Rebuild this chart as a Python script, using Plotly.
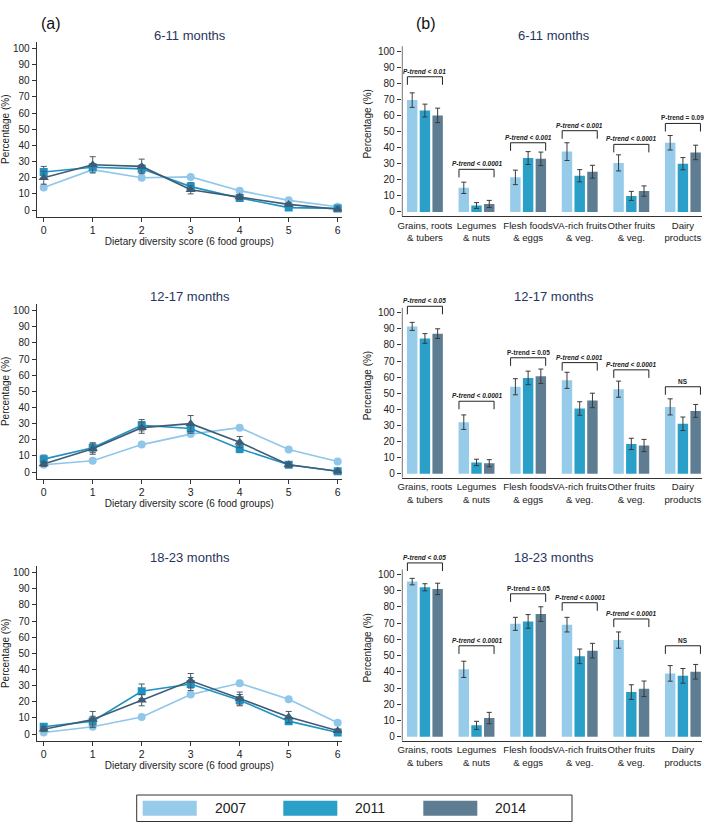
import plotly.graph_objects as go

years = ["2007", "2011", "2014"]
bar_colors = ["#96CBEA", "#2A9FC8", "#5E7D93"]
line_colors = ["#8FC6EA", "#1F91C2", "#3E5D74"]
markers = ["circle", "square", "triangle-up"]

age_groups = ["6-11 months", "12-17 months", "18-23 months"]
dds_scores = [0, 1, 2, 3, 4, 5, 6]

# Panel (a): percentage of children by dietary diversity score
dds_6_11 = {"2007": [14, 25, 20, 20.5, 12, 6, 2],
            "2011": [23.5, 26.5, 25.5, 14.5, 7.5, 1.5, 1],
            "2014": [20, 28, 27, 12.5, 8, 3.5, 0.5]}
dds_6_11_err = {"2007": [1, 1, 1, 1, 0.8, 0.6, 0.4],
                "2011": [3.5, 2, 2.5, 2.5, 1.5, 1, 0.5],
                "2014": [4, 5, 4.5, 2.5, 1.5, 1, 0.5]}
dds_12_17 = {"2007": [4.5, 7, 17, 23.5, 27.5, 14, 6.5],
             "2011": [8, 15, 29, 27, 14.5, 4.5, 0.5],
             "2014": [5, 14.5, 27.5, 30, 18.5, 4.5, 0.5]}
dds_12_17_err = {"2007": [0.8, 1, 1, 1, 1, 0.8, 0.6],
                 "2011": [2.5, 3, 3.5, 3, 2.5, 1, 0.5],
                 "2014": [1.5, 3.5, 3.5, 5, 3.5, 1.5, 0.5]}
dds_18_23 = {"2007": [1, 4.5, 10.5, 24.5, 31.5, 21.5, 7],
             "2011": [4.5, 8, 26.5, 31, 21, 8, 1],
             "2014": [3, 9, 21, 33, 22, 10.5, 2]}
dds_18_23_err = {"2007": [0.5, 0.8, 1, 1, 1, 1, 0.8],
                 "2011": [1.5, 3, 4.5, 4, 3.5, 2, 0.5],
                 "2014": [1.5, 5, 3.5, 4.5, 4, 3.5, 1]}

# Panel (b): consumption of food groups
food_groups = ["Grains, roots<br>& tubers", "Legumes<br>& nuts", "Flesh foods<br>& eggs",
               "VA-rich fruits<br>& veg.", "Other fruits<br>& veg.", "Dairy<br>products"]
fg_6_11 = {"2007": [69.5, 15, 21.5, 37.5, 30.5, 43],
           "2011": [63, 4, 33.5, 22.5, 10, 30],
           "2014": [60, 5, 33, 25, 13, 37]}
fg_6_11_err = {"2007": [4.5, 3.5, 4.5, 5.5, 5, 4.5],
               "2011": [4, 1.8, 4, 3.8, 2.8, 3.8],
               "2014": [4.5, 2.2, 4.2, 4, 3.2, 4.5]}
fg_12_17 = {"2007": [91.5, 32, 54, 58, 52.5, 41.5],
            "2011": [84, 7, 59.5, 40.5, 18.5, 31],
            "2014": [87, 6.5, 60.5, 45.5, 17.5, 39]}
fg_12_17_err = {"2007": [2.5, 4.5, 5, 5, 5, 5],
                "2011": [3, 2, 4.2, 4.2, 3.5, 4.2],
                "2014": [3, 2.2, 4.5, 4.5, 3.8, 4]}
fg_18_23 = {"2007": [95.5, 41.5, 69.5, 69, 59.5, 39],
            "2011": [92, 7, 71, 49.5, 27.5, 37.5],
            "2014": [91, 11.5, 75.5, 53, 29.5, 40]}
fg_18_23_err = {"2007": [2, 5, 4, 4.5, 5, 4.8],
                "2011": [2.2, 2.5, 4.2, 4.5, 4.5, 4.5],
                "2014": [3.5, 3.5, 4.5, 4.5, 4.8, 4.5]}

ptrend_6_11 = ["P-trend < 0.01", "P-trend < 0.0001", "P-trend < 0.001",
               "P-trend < 0.001", "P-trend < 0.0001", "P-trend = 0.09"]
ptrend_12_17 = ["P-trend < 0.05", "P-trend < 0.0001", "P-trend = 0.05",
                "P-trend < 0.001", "P-trend < 0.0001", "NS"]
ptrend_18_23 = ["P-trend < 0.05", "P-trend < 0.0001", "P-trend = 0.05",
                "P-trend < 0.0001", "P-trend < 0.0001", "NS"]
bracket_6_11 = [84, 26.5, 43, 50.5, 42, 55]
bracket_12_17 = [104, 45, 72, 69, 64.5, 54]
bracket_18_23 = [107, 56, 88, 82.5, 72.5, 56]

W, H = 709, 823
FONT = "Liberation Sans, Arial, Helvetica, sans-serif"
AXC = "#333333"
TXT = "#222222"
TITLE_C = "#27355E"


def py(px):
    return 1 - px / H


def pxx(px):
    return px / W


fig = go.Figure()

line_sets = [(dds_6_11, dds_6_11_err), (dds_12_17, dds_12_17_err), (dds_18_23, dds_18_23_err)]
bar_sets = [(fg_6_11, fg_6_11_err, ptrend_6_11, bracket_6_11),
            (fg_12_17, fg_12_17_err, ptrend_12_17, bracket_12_17),
            (fg_18_23, fg_18_23_err, ptrend_18_23, bracket_18_23)]

# pixel geometry (bottom, top) for each row
line_rows = [(216.5, 42.0), (478.5, 304.2), (740.5, 566.2)]
bar_rows = [(216.0, 31.7), (477.7, 293.4), (740.8, 554.8)]
title_rows = [35, 296, 557.5]

layout = dict(
    width=W, height=H, margin=dict(l=0, r=0, t=0, b=0, autoexpand=False),
    paper_bgcolor="white", plot_bgcolor="white",
    font=dict(family=FONT, color=TXT, size=10),
    showlegend=False, barmode="group", bargap=0.26, bargroupgap=0.18,
)
shapes = []
annotations = []

for r in range(3):
    lx = "x" if r == 0 else f"x{2 * r + 1}"
    ly = "y" if r == 0 else f"y{2 * r + 1}"
    bx = f"x{2 * r + 2}"
    by = f"y{2 * r + 2}"
    lk_x = "xaxis" if r == 0 else f"xaxis{2 * r + 1}"
    lk_y = "yaxis" if r == 0 else f"yaxis{2 * r + 1}"
    bk_x = f"xaxis{2 * r + 2}"
    bk_y = f"yaxis{2 * r + 2}"

    vals, errs = line_sets[r]
    for i, yr in enumerate(years):
        fig.add_trace(go.Scatter(
            x=dds_scores, y=vals[yr], mode="lines+markers", name=yr,
            xaxis=lx, yaxis=ly,
            line=dict(color=line_colors[i], width=1.6),
            marker=dict(symbol=markers[i], size=8 if i < 2 else 9, color=line_colors[i]),
            error_y=dict(type="data", array=errs[yr], color="#4a5a66", thickness=1, width=3),
        ))

    bvals, berrs, ptxt, btop = bar_sets[r]
    for i, yr in enumerate(years):
        fig.add_trace(go.Bar(
            x=food_groups, y=bvals[yr], name=yr, xaxis=bx, yaxis=by,
            marker=dict(color=bar_colors[i], line=dict(width=0)),
            error_y=dict(type="data", array=berrs[yr], color="#3a3a3a", thickness=1, width=2.5),
        ))

    lb, lt = line_rows[r]
    layout[lk_x] = dict(domain=[pxx(36.7), pxx(342)], range=[-0.143, 6.088], anchor=ly,
                        automargin=False,
                        tickvals=dds_scores, ticks="outside", ticklen=4, tickcolor=AXC,
                        showline=True, linecolor=AXC, linewidth=1, showgrid=False, zeroline=False,
                        tickfont=dict(size=10.5, color=TXT),
                        title=dict(text="Dietary diversity score (6 food groups)",
                                   font=dict(size=10, color=TXT), standoff=0))
    layout[lk_y] = dict(domain=[py(lb), py(lt)], range=[-4, 104], anchor=lx,
                        automargin=False,
                        tickvals=list(range(0, 101, 10)), ticks="outside", ticklen=4, tickcolor=AXC,
                        showline=True, linecolor=AXC, linewidth=1, showgrid=False, zeroline=False,
                        tickfont=dict(size=10, color=TXT),
                        title=dict(text="Percentage (%)", font=dict(size=10, color=TXT), standoff=4))

    bb, bt = bar_rows[r]
    layout[bk_x] = dict(domain=[pxx(401.7), pxx(702)], range=[-0.45, 5.37], anchor=by,
                        automargin=False,
                        ticks="", showline=True, linecolor=AXC, linewidth=1, showgrid=False,
                        zeroline=False, tickfont=dict(size=9.6, color=TXT), tickangle=0)
    layout[bk_y] = dict(domain=[py(bb), py(bt)], range=[-2.5, 112], anchor=bx,
                        automargin=False,
                        tickvals=list(range(0, 101, 10)), ticks="outside", ticklen=4, tickcolor=AXC,
                        showline=False, showgrid=False, zeroline=False,
                        tickfont=dict(size=10, color=TXT),
                        title=dict(text="Percentage (%)", font=dict(size=10, color=TXT), standoff=4))
    # y axis line for bar panels (stops at ~103 like the original)
    shapes.append(dict(type="line", xref=bx, yref=by, x0=-0.443, x1=-0.443, y0=-2.5, y1=103,
                       line=dict(color=AXC, width=1)))

    # trend brackets
    for j in range(len(food_groups)):
        half = 0.34
        top = btop[j]
        shapes.append(dict(type="path", xref=bx, yref=by,
                           path=f"M {j - half},{top - 5} L {j - half},{top} L {j + half},{top} L {j + half},{top - 5}",
                           line=dict(color="#222222", width=1)))
        t = ptxt[j]
        if t == "NS":
            txt = "<b>NS</b>"
        elif "=" in t:
            txt = f"<b>{t}</b>"
        else:
            txt = f"<b><i>{t}</i></b>"
        annotations.append(dict(x=j, y=top, xref=bx, yref=by, text=txt, showarrow=False,
                                yanchor="bottom", yshift=0, font=dict(size=6.5, color="#222222")))

    # panel titles
    annotations.append(dict(x=pxx(190), y=py(title_rows[r]), xref="paper", yref="paper",
                            text=age_groups[r], showarrow=False, xanchor="center", yanchor="middle",
                            font=dict(size=13, color=TITLE_C)))
    annotations.append(dict(x=pxx(554), y=py(title_rows[r]), xref="paper", yref="paper",
                            text=age_groups[r], showarrow=False, xanchor="center", yanchor="middle",
                            font=dict(size=13, color=TITLE_C)))

# panel letters
annotations.append(dict(x=pxx(39), y=py(13), xref="paper", yref="paper", text="(a)",
                        showarrow=False, font=dict(size=16, color="#111111")))
annotations.append(dict(x=pxx(426), y=py(13), xref="paper", yref="paper", text="(b)",
                        showarrow=False, font=dict(size=16, color="#111111")))

# legend box
shapes.append(dict(type="rect", xref="paper", yref="paper", x0=pxx(136.7), x1=pxx(572),
                   y0=py(821.5), y1=py(795), line=dict(color="#333333", width=1),
                   fillcolor="white"))
sw_x = [142.7, 283.3, 423.3]
tx_x = [212.7, 353.0, 493.3]
for i, yr in enumerate(years):
    shapes.append(dict(type="rect", xref="paper", yref="paper", x0=pxx(sw_x[i]), x1=pxx(sw_x[i] + 54),
                       y0=py(815.7), y1=py(800.7), line=dict(width=0), fillcolor=bar_colors[i]))
    annotations.append(dict(x=pxx(tx_x[i]), y=py(808.2), xref="paper", yref="paper", text=yr,
                            showarrow=False, xanchor="left", yanchor="middle",
                            font=dict(size=14, color="#222222")))

layout["shapes"] = shapes
layout["annotations"] = annotations
fig.update_layout(**layout)
fig.write_html("out.html", config={"displayModeBar": False},
               post_script="document.body.style.margin='0';document.body.style.overflow='hidden';")
